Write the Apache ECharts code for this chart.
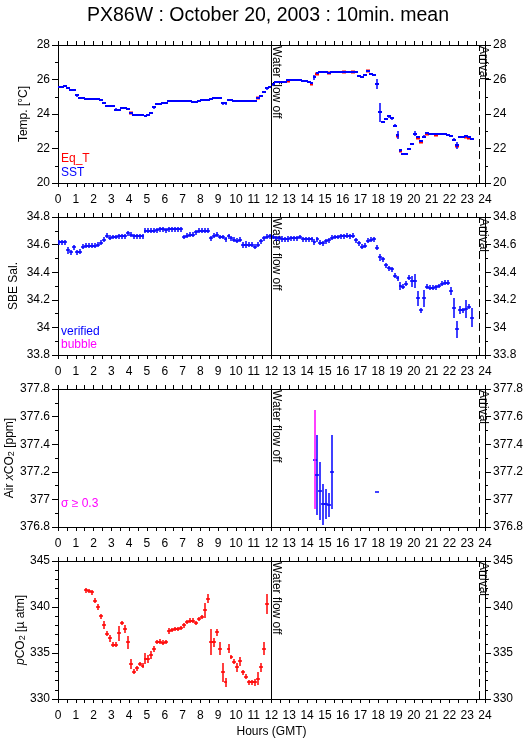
<!DOCTYPE html>
<html><head><meta charset="utf-8">
<script src="https://cdn.jsdelivr.net/npm/echarts@6/dist/echarts.min.js"></script>
<style>html,body{margin:0;padding:0;background:#fff}#c{width:529px;height:739px}</style>
</head><body><div id="c"></div>
<script>
// ---------------- DATA (10-minute means; sample i is centred at i/6 + 1/12 h) ----------------
const hourLabels = [0,1,2,3,4,5,6,7,8,9,10,11,12,13,14,15,16,17,18,19,20,21,22,23,24];
const waterFlowOffHour = 12;
const arrivalHour = 23.67;

// SST (blue), sample index 0..139
const sst = [
  25.57,25.57,25.65,25.52,25.38,25.38,25.08,24.92,24.92,24.86,
  24.86,24.86,24.86,24.87,24.82,24.62,24.47,24.46,24.44,24.26,
  24.24,24.35,24.34,24.30,24.07,23.95,23.93,23.92,23.92,23.90,
  23.97,24.03,24.38,24.60,24.60,24.62,24.65,24.73,24.75,24.76,
  24.76,24.76,24.75,24.75,24.73,24.70,24.70,24.74,24.84,24.84,
  24.84,24.85,24.92,24.93,24.92,24.62,24.62,24.82,24.82,24.75,
  24.75,24.76,24.75,24.74,24.74,24.74,24.75,24.95,25.05,25.28,
  25.48,25.55,25.72,25.83,25.83,25.83,25.84,25.95,25.95,25.95,
  25.95,25.95,25.94,25.90,25.88,25.78,26.12,26.37,26.42,26.42,
  26.42,26.40,26.45,26.46,26.46,26.46,26.45,26.46,26.46,26.45,
  26.45,26.22,26.17,26.25,26.50,26.33,26.28,25.73,24.10,23.56,
  23.70,23.86,23.76,23.33,22.78,21.90,21.67,21.70,21.95,22.25,
  22.86,22.65,22.43,22.68,22.88,22.84,22.84,22.84,22.84,22.84,
  22.84,22.80,22.72,22.52,22.20,22.66,22.68,22.72,22.64,22.56
];
// [sample index, standard deviation] where it is visible; others use sstErrDefault
const sstErrDefault = 0.015;
const sstErr = [[3,0.06],[6,0.07],[15,0.06],[19,0.07],[20,0.07],[30,0.05],[32,0.09],[55,0.07],[56,0.07],
  [67,0.05],[68,0.08],[69,0.08],[70,0.06],[71,0.06],[72,0.07],[86,0.12],[90,0.04],[101,0.05],[103,0.05],
  [107,0.3],[108,0.55],[110,0.07],[111,0.08],[112,0.08],[113,0.08],[114,0.25],[115,0.1],[117,0.05],
  [118,0.04],[119,0.07],[120,0.15],[123,0.1],[133,0.07],[134,0.2],[135,0.05]];

// Eq_T (red) where it shows from under SST: [hour, value]
const eqT = [[4.08,24.04],[11.25,24.92],[12.92,25.92],[14.25,25.75],[14.58,26.34],[15.25,26.36],
  [16.08,26.42],[16.58,26.42],[17.42,26.47],[19.08,22.75],[19.25,21.87],[20.25,22.62],[20.42,22.40],
  [20.75,22.85],[21.25,22.81],[22.42,22.17],[22.92,22.69],[23.08,22.61]];

// SBE salinity (verified), sample index 0..139
const salinity = [
  34.617,34.617,34.617,34.56,34.545,34.58,34.545,34.55,34.585,34.59,
  34.59,34.59,34.59,34.60,34.615,34.635,34.665,34.65,34.655,34.655,
  34.66,34.66,34.66,34.683,34.67,34.66,34.66,34.66,34.66,34.70,
  34.70,34.70,34.70,34.705,34.71,34.71,34.705,34.71,34.71,34.712,
  34.712,34.71,34.655,34.665,34.67,34.67,34.69,34.70,34.70,34.70,
  34.70,34.647,34.665,34.67,34.655,34.655,34.64,34.66,34.647,34.635,
  34.627,34.635,34.60,34.60,34.60,34.60,34.585,34.60,34.625,34.645,
  34.657,34.66,34.655,34.645,34.645,34.64,34.64,34.64,34.645,34.647,
  34.647,34.655,34.64,34.64,34.64,34.64,34.617,34.64,34.615,34.61,
  34.625,34.63,34.65,34.655,34.655,34.66,34.66,34.665,34.66,34.665,
  34.63,34.61,34.585,34.59,34.627,34.635,34.64,34.578,34.508,34.495,
  34.452,34.428,34.423,34.374,34.355,34.30,34.294,34.318,34.36,34.335,
  34.335,34.21,34.124,34.21,34.294,34.287,34.287,34.29,34.30,34.318,
  34.325,34.325,34.262,34.14,33.985,34.124,34.124,34.13,34.148,34.07
];
const salErrDefault = 0.018;
const salErr = [[3,0.025],[62,0.022],[63,0.025],[75,0.022],[77,0.022],[86,0.022],[108,0.025],[115,0.03],
  [119,0.04],[120,0.05],[121,0.055],[123,0.06],[132,0.03],[133,0.07],[134,0.065],[135,0.03],[137,0.065],[139,0.07]];

// Air xCO2
const airHours = [14.42,14.58,14.75,14.92,15.08,15.25,15.42,17.92];
const airXco2  = [377.287,377.177,377.063,376.965,376.965,376.96,377.20,377.053];
const airErr   = [0.36,0.29,0.21,0.15,0.11,0.09,0.27,0];
const airSigmaFlag = 0.3;

// pCO2, starting at sample index 9
const pco2Start = 9;
const pco2 = [
  341.8,341.75,341.6,340.7,340.0,339.0,338.06,337.1,336.6,335.9,
  335.9,337.15,338.28,337.6,336.17,333.8,332.98,333.34,333.8,333.63,
  334.36,334.36,334.8,335.45,336.2,336.25,336.13,336.2,337.37,337.5,
  337.6,337.6,337.7,337.99,338.35,338.53,338.53,338.28,338.7,338.93,
  339.62,340.9,336.17,336.17,337.26,335.45,332.9,331.8,335.45,334.55,
  334.07,333.45,334.1,332.9,332.43,331.8,331.8,331.8,332.2,333.45,
  335.45,340.3
];
const pco2ErrDefault = 0.25;
const pco2Err = [[13,0.3],[15,0.4],[17,0.4],[20,0.8],[22,0.4],[23,0.7],[24,0.5],[29,0.6],[30,0.4],[31,0.4],
  [32,0.3],[37,0.3],[49,0.8],[50,0.5],[51,1.4],[52,0.5],[53,0.4],[54,0.7],[55,1.0],[56,0.5],[57,0.5],
  [59,0.3],[60,0.5],[61,0.5],[62,0.3],[64,0.25],[66,0.4],[67,0.7],[68,0.5],[69,0.7],[70,1.1]];

// ---------------- LAYOUT / STYLE ----------------
const FONT = '"Liberation Sans", Arial, Helvetica, sans-serif';
const BLUE = '#0000ff', RED = '#ff0000', MAGENTA = '#ff00ff';
const TOPS = [45, 217, 389, 561], H = 138, LEFT = 58, RIGHT = 44;
const HALF = 0.11; // half width of the 10-min bar, hours
const LW = 1.5;

function sampleHour(i) { return i / 6 + 1 / 12; }
function build(vals, start, errs, def) {
  const em = new Map(errs);
  return vals.map((v, k) => [sampleHour(start + k), v, em.has(start + k) ? em.get(start + k) : def]);
}

function crossRenderer(color, vColorFn, hw) {
  return function (params, api) {
    const t = api.value(0), v = api.value(1), s = api.value(2);
    const p = api.coord([t, v]);
    const l = api.coord([t - HALF, v]), r = api.coord([t + HALF, v]);
    const hi = api.coord([t, v + s]), lo = api.coord([t, v - s]);
    const x = Math.round(p[0]), y = Math.round(p[1]);
    const vc = vColorFn ? vColorFn(s) : color;
    const ch = [{ type: 'line', shape: { x1: Math.round(l[0]), y1: y, x2: Math.round(r[0]), y2: y },
                  style: { stroke: color, lineWidth: hw || LW } }];
    if (s > 0) ch.push({ type: 'line', shape: { x1: x, y1: Math.min(Math.round(hi[1]), y - 1), x2: x, y2: Math.max(Math.round(lo[1]), y + 1) },
                  style: { stroke: vc, lineWidth: LW } });
    return { type: 'group', children: ch };
  };
}

const markLines = {
  silent: true, symbol: ['none', 'none'], label: { show: false }, animation: false,
  data: [
    { xAxis: waterFlowOffHour, lineStyle: { color: '#000', width: 1, type: 'solid' } },
    { xAxis: arrivalHour, lineStyle: { color: '#000', width: 1, type: [8, 4] } }
  ]
};

function xAxes(g) {
  const base = { type: 'value', gridIndex: g, min: 0, max: 24, interval: 1,
    axisLine: { show: true, onZero: false, lineStyle: { color: '#000', width: 1 } },
    axisTick: { show: true, inside: false, length: 4, lineStyle: { color: '#000', width: 1 } },
    minorTick: { show: true, splitNumber: 2, length: 4, lineStyle: { color: '#000', width: 1 } },
    splitLine: { show: false }, minorSplitLine: { show: false } };
  const bottom = Object.assign({}, base, { position: 'bottom',
    axisLabel: { show: true, color: '#000', fontSize: 12, fontFamily: FONT, margin: 11,
      formatter: v => hourLabels.includes(v) ? String(v) : '' } });
  if (g === 3) Object.assign(bottom, { name: 'Hours (GMT)', nameLocation: 'middle', nameGap: 27,
    nameTextStyle: { color: '#000', fontSize: 12, fontFamily: FONT } });
  const top = Object.assign({}, base, { position: 'top', axisLabel: { show: false } });
  return [bottom, top];
}

function yAxes(g, min, max, interval, minorSplit) {
  const base = { type: 'value', gridIndex: g, min, max, interval,
    axisLine: { show: true, onZero: false, lineStyle: { color: '#000', width: 1 } },
    axisTick: { show: true, inside: false, length: 6, lineStyle: { color: '#000', width: 1 } },
    minorTick: { show: true, splitNumber: minorSplit, length: 3, lineStyle: { color: '#000', width: 1 } },
    splitLine: { show: false }, minorSplitLine: { show: false },
    axisLabel: { color: '#000', fontSize: 12, fontFamily: FONT, margin: 8 } };
  return [Object.assign({}, base, { position: 'left' }), Object.assign({}, base, { position: 'right' })];
}

const chart = echarts.init(document.getElementById('c'), null, { renderer: 'canvas' });

const grids = TOPS.map(t => ({ left: LEFT, right: RIGHT, top: t, height: H, containLabel: false, outerBoundsMode: 'none' }));
const xAxis = [].concat(xAxes(0), xAxes(1), xAxes(2), xAxes(3));
const yAxis = [].concat(
  yAxes(0, 20, 28, 2, 2),
  yAxes(1, 33.8, 34.8, 0.2, 2),
  yAxes(2, 376.8, 377.8, 0.2, 2),
  yAxes(3, 330, 345, 5, 5)
);

function cseries(name, g, data, color, vColorFn, withLines, hw) {
  const s = { type: 'custom', name, xAxisIndex: 2 * g, yAxisIndex: 2 * g, data,
    dimensions: ['hour', 'value', 'sigma'], encode: { x: 0, y: 1 },
    renderItem: crossRenderer(color, vColorFn, hw), animation: false, silent: true };
  if (withLines) s.markLine = markLines;
  return s;
}

const series = [
  cseries('Eq_T', 0, eqT.map(d => [d[0], d[1], 0]), RED, null, false, 3),
  cseries('SST', 0, build(sst, 0, sstErr, sstErrDefault), BLUE, null, true, 2),
  cseries('verified', 1, build(salinity, 0, salErr, salErrDefault), BLUE, null, true),
  cseries('Air xCO2', 2, airHours.map((h, k) => [h, airXco2[k], airErr[k]]), BLUE,
          s => s >= airSigmaFlag ? MAGENTA : BLUE, true),
  cseries('pCO2', 3, build(pco2, pco2Start, pco2Err, pco2ErrDefault), RED, null, true)
];

chart.setOption({
  animation: false,
  backgroundColor: '#fff',
  title: { text: 'PX86W : October 20, 2003 : 10min. mean', left: 82, top: 1,
    textStyle: { fontSize: 19.5, fontWeight: 'normal', fontFamily: FONT, color: '#000' } },
  grid: grids, xAxis, yAxis, series
});

// axis titles (rotated), legends and annotations
const rich = {
  n: { fontSize: 12, fontFamily: FONT, fill: '#000', lineHeight: 14 },
  i: { fontSize: 12, fontFamily: FONT, fill: '#000', fontStyle: 'italic', lineHeight: 14 },
  s: { fontSize: 9, fontFamily: FONT, fill: '#000', lineHeight: 9, verticalAlign: 'bottom' }
};
const yTitles = [
  ['{n|Temp. [°C]}', 24],
  ['{n|SBE Sal.}', 14],
  ['{n|Air }{i|x}{n|CO}{s|2}{n| [ppm]}', 9.5],
  ['{i|p}{n|CO}{s|2}{n| [µ atm]}', 20.5]
];
const graphic = [];
yTitles.forEach(([txt, x], g) => {
  graphic.push({ type: 'text', x, y: TOPS[g] + H / 2, rotation: Math.PI / 2, silent: true,
    style: { text: txt, rich, fill: '#000', font: '12px ' + FONT, textAlign: 'center', textVerticalAlign: 'middle', align: 'center', verticalAlign: 'middle' } });
});
const legendTexts = [
  ['Eq_T', RED, 158.5], ['SST', BLUE, 172.5],
  ['verified', BLUE, 332], ['bubble', MAGENTA, 344.5],
  ['σ ≥ 0.3', MAGENTA, 504]
];
legendTexts.forEach(([txt, col, y]) => {
  graphic.push({ type: 'text', x: 61, y, silent: true,
    style: { text: txt, fill: col, font: '12px ' + FONT, textAlign: 'left', textVerticalAlign: 'middle', align: 'left', verticalAlign: 'middle' } });
});
for (let g = 0; g < 4; g++) {
  const xw = chart.convertToPixel({ xAxisIndex: 2 * g }, waterFlowOffHour);
  const xa = chart.convertToPixel({ xAxisIndex: 2 * g }, arrivalHour);
  [['Water flow off', xw + 5], ['Arrival', xa + 4]].forEach(([txt, x]) => {
    graphic.push({ type: 'text', x, y: TOPS[g] + 1, rotation: -Math.PI / 2, silent: true,
      style: { text: txt, fill: '#000', font: '12px ' + FONT, textAlign: 'left', textVerticalAlign: 'middle', align: 'left', verticalAlign: 'middle' } });
  });
}
chart.setOption({ graphic });
</script></body></html>
